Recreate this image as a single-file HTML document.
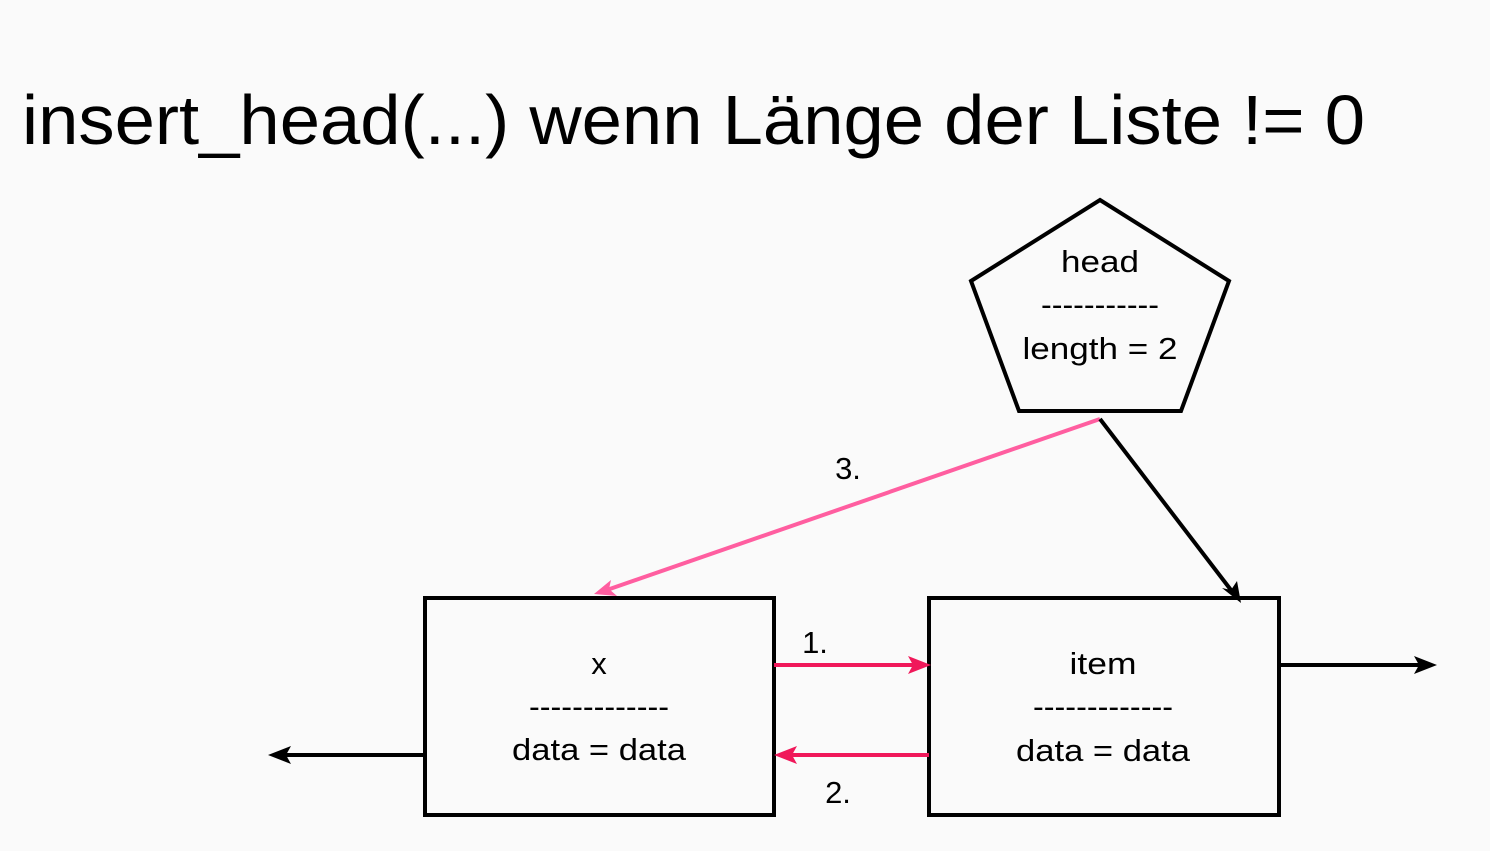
<!DOCTYPE html>
<html><head><style>html,body{margin:0;padding:0;background:#fafafa}svg{display:block}</style></head>
<body>
<svg width="1490" height="851" viewBox="0 0 1490 851" xmlns="http://www.w3.org/2000/svg" font-family="Liberation Sans, sans-serif">
<rect width="1490" height="851" fill="#fafafa"/>
<text x="22" y="144" font-size="70" textLength="1343" lengthAdjust="spacingAndGlyphs" fill="#000">insert_head(...) wenn Länge der Liste != 0</text>
<polygon points="1100,200 1229,281 1181,411 1019,411 971,281" fill="none" stroke="#000" stroke-width="4"/>
<g font-size="31" text-anchor="middle" fill="#000">
<text x="1100" y="272" textLength="78" lengthAdjust="spacingAndGlyphs">head</text>
<text x="1100" y="315" textLength="118" lengthAdjust="spacingAndGlyphs">-----------</text>
<text x="1100" y="359" textLength="155" lengthAdjust="spacingAndGlyphs">length = 2</text>
<text x="599" y="674">x</text>
<text x="599" y="717" textLength="140" lengthAdjust="spacingAndGlyphs">-------------</text>
<text x="599" y="760" textLength="174" lengthAdjust="spacingAndGlyphs">data = data</text>
<text x="1103" y="674" textLength="67" lengthAdjust="spacingAndGlyphs">item</text>
<text x="1103" y="717" textLength="140" lengthAdjust="spacingAndGlyphs">-------------</text>
<text x="1103" y="761" textLength="174" lengthAdjust="spacingAndGlyphs">data = data</text>
<text x="815" y="653">1.</text>
<text x="838" y="803">2.</text>
<text x="848" y="479">3.</text>
</g>
<rect x="425" y="598" width="349" height="217" fill="none" stroke="#000" stroke-width="4"/>
<rect x="929" y="598" width="350" height="217" fill="none" stroke="#000" stroke-width="4"/>
<g stroke-width="4" fill="none">
<line x1="774" y1="665" x2="920" y2="665" stroke="#f0185a"/>
<line x1="929" y1="755" x2="784" y2="755" stroke="#f0185a"/>
<line x1="1100" y1="419" x2="604" y2="591" stroke="#ff5ea0"/>
<line x1="1100" y1="419" x2="1234" y2="594" stroke="#000"/>
<line x1="1279" y1="665" x2="1428" y2="665" stroke="#000"/>
<line x1="425" y1="755" x2="276" y2="755" stroke="#000"/>
</g>
<g>
<path d="M931,665 L908,656 L913,665 L908,674 Z" fill="#f0185a"/>
<path d="M774,755 L797,746 L792,755 L797,764 Z" fill="#f0185a"/>
<path d="M594,594 L611,580 L609,589 L617,596 Z" fill="#ff5ea0"/>
<path d="M1241,603 L1222,588 L1231,590 L1237,581 Z" fill="#000"/>
<path d="M1437,665 L1414,656 L1419,665 L1414,674 Z" fill="#000"/>
<path d="M268,755 L291,746 L286,755 L291,764 Z" fill="#000"/>
</g>
</svg>
</body></html>
